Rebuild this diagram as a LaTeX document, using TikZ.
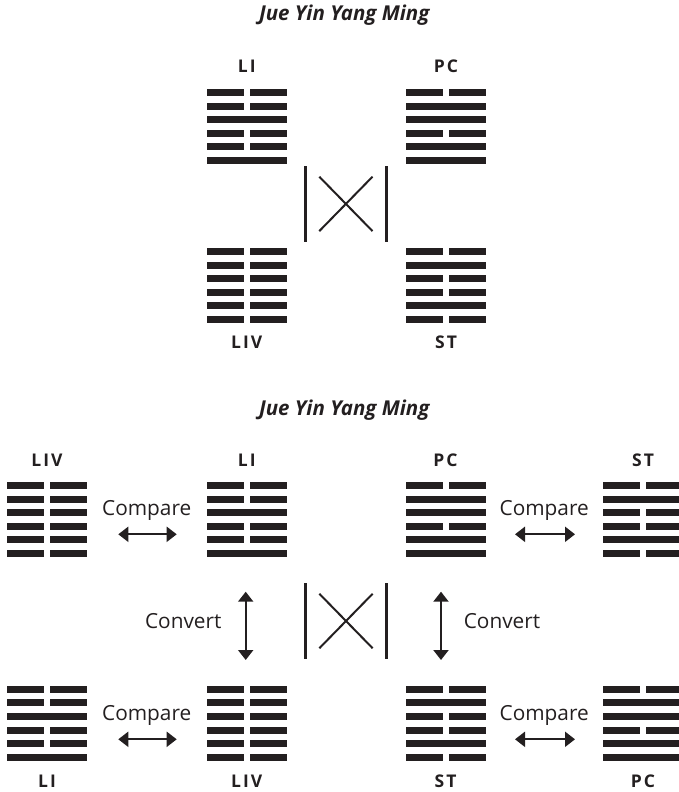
\documentclass[tikz,border=0pt]{standalone}
\usepackage{fontspec}
\setmainfont{Open Sans}
\usetikzlibrary{arrows.meta}
\definecolor{ink}{HTML}{231F20}
\newfontfamily\labfont[LetterSpace=12]{Open Sans}

\tikzset{
  lab/.style={anchor=base, text=ink, inner sep=0, font=\labfont\bfseries\fontsize{17.5}{18}\selectfont},
  word/.style={anchor=base, text=ink, inner sep=0, font=\fontsize{20.8}{22}\selectfont},
  heading/.style={anchor=base, text=ink, inner sep=0, font=\bfseries\itshape\fontsize{20.5}{22}\selectfont},
  dbl/.style={draw=ink, line width=2pt, {Triangle[length=10pt,width=15pt]}-{Triangle[length=10pt,width=15pt]}},
  hexframe/.style={minimum width=80pt, minimum height=74.4pt, inner sep=0},
  xbar/.style={draw=ink, line width=2.8pt},
  xline/.style={draw=ink, line width=2pt},
}

% hexagram: name, centre x, top y, six flags from top (1 = whole line, 0 = broken)
\newcommand\hexagram[4]{%
  \node[hexframe] (#1) at (#2,#3+37.2) {};
  \foreach \b [count=\i from 0] in {#4} {
    \pgfmathsetmacro\yy{#3-0.3+\i*13.6}
    \ifnum\b=1
      \fill[ink] (#2-40,\yy) rectangle ++(80,7);
    \else
      \fill[ink] (#2-40,\yy) rectangle ++(37,7);
      \fill[ink] (#2+3,\yy) rectangle ++(37,7);
    \fi
  }}

% crossed-bars sign: name prefix, centre x, centre y
\newcommand\crosssign[3]{%
  \coordinate (#1lt) at (#2-40.2,#3-37.9);
  \coordinate (#1lb) at (#2-40.2,#3+37.9);
  \coordinate (#1rt) at (#2+40.2,#3-37.9);
  \coordinate (#1rb) at (#2+40.2,#3+37.9);
  \coordinate (#1a) at (#2-26.6,#3-27.2);
  \coordinate (#1b) at (#2+26.6,#3+27.2);
  \coordinate (#1c) at (#2-26.6,#3+27.2);
  \coordinate (#1d) at (#2+26.6,#3-27.2);
  \draw[xbar] (#1lt) -- (#1lb);
  \draw[xbar] (#1rt) -- (#1rb);
  \draw[xline] (#1a) -- (#1b);
  \draw[xline] (#1c) -- (#1d);
}

\begin{document}
\begin{tikzpicture}[x=1pt,y=-1pt]
\useasboundingbox (0,0) rectangle (678,792);

% ---------- upper group ----------
\node[heading] (t1) at (344.2,21) {Jue Yin Yang Ming};

\node[lab] (lLI) at (246.7,73) {LI};
\node[lab] (lPC) at (446,73) {PC};
\hexagram{hLI}{246.7}{89.3}{0,0,1,0,0,1}
\hexagram{hPC}{446}{89.3}{0,1,1,0,1,1}
\hexagram{hLIV}{246.7}{248.3}{0,0,0,0,0,0}
\hexagram{hST}{446}{248.3}{0,1,0,0,1,0}
\node[lab] (lLIV) at (246.7,348.3) {LIV};
\node[lab] (lST) at (446,348.3) {ST};
\crosssign{xa}{345.9}{203.9}

% ---------- lower group ----------
\node[heading] (t2) at (344.2,415) {Jue Yin Yang Ming};

\node[lab] (bLIV) at (47,466) {LIV};
\node[lab] (bLI) at (246.7,466) {LI};
\node[lab] (bPC) at (445.5,466) {PC};
\node[lab] (bST) at (643,466) {ST};
\hexagram{gLIV}{47}{482.3}{0,0,0,0,0,0}
\hexagram{gLI}{246.7}{482.3}{0,0,1,0,0,1}
\hexagram{gPC}{445.5}{482.3}{0,1,1,0,1,1}
\hexagram{gST}{643}{482.3}{0,1,0,0,1,0}

\node[word] (cmp1) at (146.7,515) {Compare};
\node[word] (cmp2) at (544.2,515) {Compare};
\coordinate (a1l) at (118.3,534.3);
\coordinate (a1r) at (176.7,534.3);
\coordinate (a2l) at (515,534.3);
\coordinate (a2r) at (575,534.3);
\draw[dbl] (a1l) -- (a1r);
\draw[dbl] (a2l) -- (a2r);

\node[word] (cv1) at (183.3,628) {Convert};
\node[word] (cv2) at (502,628) {Convert};
\coordinate (v1t) at (245.7,591.7);
\coordinate (v1b) at (245.7,660);
\coordinate (v2t) at (441,591.7);
\coordinate (v2b) at (441,660);
\draw[dbl] (v1t) -- (v1b);
\draw[dbl] (v2t) -- (v2b);
\crosssign{xb}{346}{621}

\hexagram{kLI}{47}{686}{0,0,1,0,0,1}
\hexagram{kLIV}{246.7}{686}{0,0,0,0,0,0}
\hexagram{kST}{445.5}{686}{0,1,0,0,1,0}
\hexagram{kPC}{643}{686}{0,1,1,0,1,1}
\node[word] (cmp3) at (146.7,720) {Compare};
\node[word] (cmp4) at (544.2,720) {Compare};
\coordinate (a3l) at (118.3,739.3);
\coordinate (a3r) at (176.7,739.3);
\coordinate (a4l) at (515,739.3);
\coordinate (a4r) at (575,739.3);
\draw[dbl] (a3l) -- (a3r);
\draw[dbl] (a4l) -- (a4r);

\node[lab] (kLIl) at (47,787.3) {LI};
\node[lab] (kLIVl) at (246.7,787.3) {LIV};
\node[lab] (kSTl) at (445.5,787.3) {ST};
\node[lab] (kPCl) at (643,787.3) {PC};
\end{tikzpicture}
\end{document}
